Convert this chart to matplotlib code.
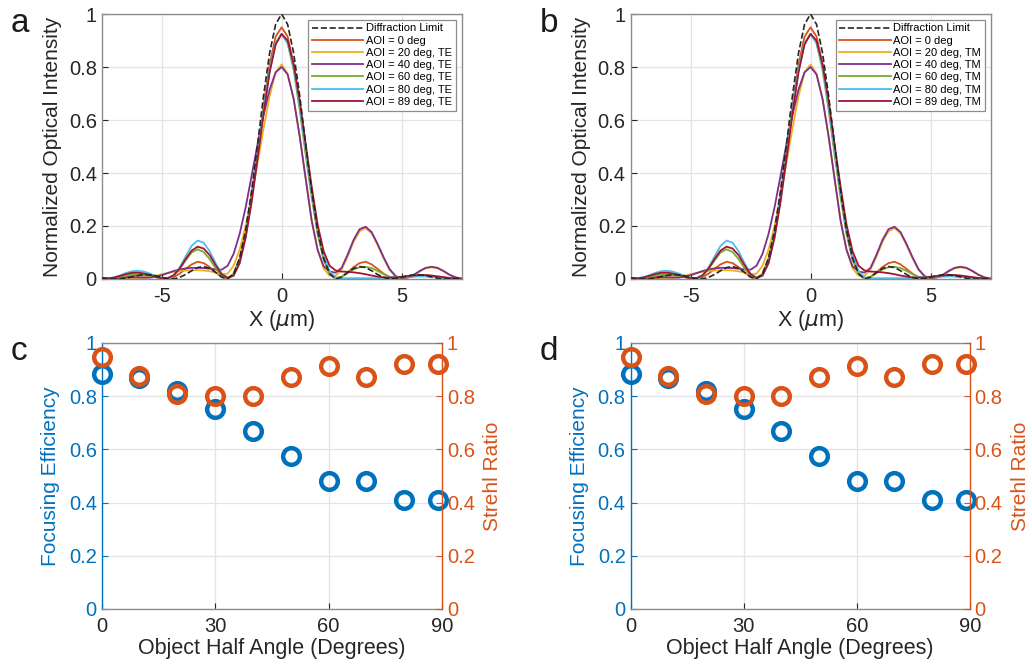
import numpy as np
import matplotlib
matplotlib.use("Agg")
import matplotlib.pyplot as plt

plt.rcParams['font.family'] = ['Liberation Sans', 'DejaVu Sans']
plt.rcParams['mathtext.fontset'] = 'dejavusans'
plt.rcParams['axes.unicode_minus'] = False

# ---- line profiles, sampled every 0.25 um from -7.5 to 7.5 ----
x_um = np.arange(-7.5, 7.51, 0.25)

diff_limit = [0.005, 0.002, 0.000, 0.000, 0.003, 0.008, 0.013, 0.016, 0.016, 0.012,
              0.006, 0.001, 0.000, 0.006, 0.017, 0.031, 0.043, 0.047, 0.040, 0.025,
              0.007, 0.000, 0.020, 0.079, 0.184, 0.333, 0.510, 0.694, 0.853, 0.961,
              1.000,
              0.961, 0.853, 0.694, 0.510, 0.333, 0.184, 0.079, 0.020, 0.000, 0.007,
              0.025, 0.040, 0.047, 0.043, 0.031, 0.017, 0.006, 0.000, 0.001, 0.006,
              0.012, 0.016, 0.016, 0.013, 0.008, 0.003, 0.000, 0.000, 0.002, 0.005]

aoi_0 = [0.001, 0.001, 0.002, 0.004, 0.007, 0.011, 0.013, 0.013, 0.011, 0.007,
         0.003, 0.002, 0.007, 0.020, 0.038, 0.055, 0.065, 0.060, 0.045, 0.025,
         0.008, 0.002, 0.020, 0.075, 0.175, 0.320, 0.485, 0.655, 0.810, 0.915,
         0.950,
         0.915, 0.810, 0.655, 0.485, 0.320, 0.175, 0.075, 0.020, 0.002, 0.008,
         0.025, 0.045, 0.060, 0.065, 0.055, 0.038, 0.020, 0.007, 0.002, 0.003,
         0.007, 0.011, 0.013, 0.013, 0.011, 0.007, 0.004, 0.002, 0.001, 0.001]

aoi_20 = [0.000, 0.000, 0.001, 0.002, 0.003, 0.004, 0.004, 0.005, 0.008, 0.012,
          0.018, 0.023, 0.027, 0.030, 0.032, 0.033, 0.033, 0.032, 0.029, 0.024,
          0.018, 0.020, 0.050, 0.110, 0.200, 0.310, 0.440, 0.570, 0.690, 0.780,
          0.810,
          0.775, 0.680, 0.540, 0.380, 0.225, 0.110, 0.040, 0.012, 0.012, 0.035,
          0.085, 0.140, 0.180, 0.192, 0.172, 0.128, 0.078, 0.034, 0.010, 0.003,
          0.005, 0.014, 0.028, 0.040, 0.044, 0.040, 0.029, 0.015, 0.006, 0.001]

aoi_40 = [0.000, 0.001, 0.002, 0.004, 0.005, 0.006, 0.006, 0.005, 0.005, 0.008,
          0.014, 0.022, 0.030, 0.036, 0.040, 0.042, 0.042, 0.041, 0.039, 0.036,
          0.035, 0.050, 0.095, 0.170, 0.270, 0.390, 0.510, 0.620, 0.715, 0.780,
          0.800,
          0.772, 0.680, 0.540, 0.380, 0.220, 0.110, 0.048, 0.028, 0.024, 0.042,
          0.092, 0.148, 0.188, 0.197, 0.177, 0.132, 0.082, 0.037, 0.011, 0.003,
          0.005, 0.015, 0.030, 0.042, 0.046, 0.042, 0.030, 0.016, 0.006, 0.001]

aoi_60 = [0.000, 0.001, 0.004, 0.008, 0.013, 0.017, 0.018, 0.016, 0.012, 0.007,
          0.002, 0.002, 0.012, 0.037, 0.070, 0.100, 0.112, 0.102, 0.075, 0.040,
          0.012, 0.003, 0.020, 0.075, 0.170, 0.310, 0.470, 0.640, 0.790, 0.890,
          0.925,
          0.890, 0.790, 0.640, 0.470, 0.310, 0.170, 0.075, 0.020, 0.003, 0.008,
          0.022, 0.036, 0.044, 0.046, 0.041, 0.030, 0.018, 0.008, 0.004, 0.005,
          0.007, 0.009, 0.010, 0.010, 0.009, 0.007, 0.005, 0.003, 0.002, 0.001]

aoi_80 = [0.000, 0.002, 0.006, 0.013, 0.022, 0.029, 0.031, 0.028, 0.021, 0.012,
          0.004, 0.002, 0.013, 0.043, 0.085, 0.125, 0.145, 0.137, 0.105, 0.060,
          0.020, 0.005, 0.012, 0.060, 0.160, 0.300, 0.470, 0.640, 0.790, 0.890,
          0.925,
          0.890, 0.800, 0.660, 0.490, 0.330, 0.190, 0.090, 0.030, 0.006, 0.002,
          0.003, 0.003, 0.003, 0.003, 0.003, 0.003, 0.004, 0.005, 0.007, 0.009,
          0.010, 0.011, 0.011, 0.010, 0.008, 0.006, 0.004, 0.002, 0.001, 0.000]

aoi_89 = [0.000, 0.002, 0.005, 0.011, 0.018, 0.023, 0.024, 0.021, 0.015, 0.008,
          0.003, 0.003, 0.014, 0.040, 0.075, 0.107, 0.122, 0.115, 0.090, 0.052,
          0.018, 0.004, 0.013, 0.060, 0.155, 0.290, 0.455, 0.625, 0.780, 0.885,
          0.925,
          0.900, 0.810, 0.675, 0.510, 0.350, 0.205, 0.105, 0.050, 0.032, 0.028,
          0.027, 0.025, 0.022, 0.018, 0.013, 0.009, 0.006, 0.005, 0.006, 0.008,
          0.011, 0.013, 0.015, 0.015, 0.013, 0.010, 0.007, 0.004, 0.002, 0.001]

aoi_labels = ["AOI = 0 deg", "AOI = 20 deg", "AOI = 40 deg",
              "AOI = 60 deg", "AOI = 80 deg", "AOI = 89 deg"]
aoi_colors = ["#D95319", "#EDB120", "#7E2F8E", "#77AC30", "#4DBEEE", "#A2142F"]

# ---- focusing efficiency / strehl ratio vs object half angle ----
half_angle = [0, 10, 20, 30, 40, 50, 60, 70, 80, 89]
focus_eff = [0.883, 0.870, 0.820, 0.752, 0.668, 0.574, 0.480, 0.480, 0.410, 0.410]
strehl = [0.947, 0.877, 0.810, 0.802, 0.802, 0.871, 0.915, 0.871, 0.922, 0.921]

BLUE = "#0072BD"
ORANGE = "#D95319"
SPINE = "#8c8c8c"
GRID = "#e4e4e4"
TXT = "#262626"

fig = plt.figure(figsize=(10.32, 6.69), dpi=100)


def style_axes(ax):
    ax.tick_params(direction='in', length=4, labelsize=14.5, colors=TXT)
    ax.tick_params(axis='x', pad=6)
    for s in ax.spines.values():
        s.set_color(SPINE)
        s.set_linewidth(1.0)
    ax.grid(True, color=GRID, linewidth=0.9)
    ax.set_axisbelow(True)


def profile_panel(rect, pol, letter):
    ax = fig.add_axes(rect)
    curves = [aoi_0, aoi_20, aoi_40, aoi_60, aoi_80, aoi_89]
    handles = []
    h, = ax.plot(x_um, diff_limit, '--', color=TXT, lw=1.2, zorder=5,
                 label="Diffraction Limit")
    handles.append(h)
    for i, (yy, c) in enumerate(zip(curves, aoi_colors)):
        lab = aoi_labels[i] if i == 0 else aoi_labels[i] + ", " + pol
        h, = ax.plot(x_um, yy, color=c, lw=1.3, label=lab)
        handles.append(h)
    ax.set_xlim(-7.5, 7.5)
    ax.set_ylim(0, 1)
    ax.set_xticks([-5, 0, 5])
    ax.set_yticks([0, 0.2, 0.4, 0.6, 0.8, 1])
    ax.set_yticklabels(["0", "0.2", "0.4", "0.6", "0.8", "1"])
    style_axes(ax)
    ax.set_xlabel(r"X ($\mu$m)", fontsize=15.5, color=TXT, labelpad=1)
    ax.set_ylabel("Normalized Optical Intensity", fontsize=15, color=TXT, labelpad=5)
    leg = ax.legend(handles=handles, loc='upper right', fontsize=8, handlelength=4.6,
                    handletextpad=0.25, labelspacing=0.2, borderpad=0.35,
                    borderaxespad=0.5, fancybox=False, framealpha=1)
    leg.get_frame().set_edgecolor(SPINE)
    leg.get_frame().set_linewidth(0.9)
    fig.text(rect[0] - 0.088, 0.965, letter, fontsize=24, color='#1a1a1a', va='center')
    return ax


def metric_panel(rect, letter):
    ax = fig.add_axes(rect)
    ax.plot(half_angle, focus_eff, 'o', mfc='none', mec=BLUE, mew=3.2, ms=12,
            clip_on=False, zorder=3)
    ax.set_xlim(0, 90)
    ax.set_ylim(0, 1)
    ax.set_xticks([0, 30, 60, 90])
    ax.set_yticks([0, 0.2, 0.4, 0.6, 0.8, 1])
    ax.set_yticklabels(["0", "0.2", "0.4", "0.6", "0.8", "1"])
    style_axes(ax)
    ax.tick_params(axis='y', colors=BLUE)
    ax.spines['left'].set_color(BLUE)
    ax.set_ylabel("Focusing Efficiency", fontsize=15, color=BLUE, labelpad=6)
    ax.set_xlabel("Object Half Angle (Degrees)", fontsize=15.5, color=TXT, labelpad=1)

    ax2 = ax.twinx()
    ax2.plot(half_angle, strehl, 'o', mfc='none', mec=ORANGE, mew=3.2, ms=12,
             clip_on=False)
    ax2.set_ylim(0, 1)
    ax2.set_yticks([0, 0.2, 0.4, 0.6, 0.8, 1])
    ax2.set_yticklabels(["0", "0.2", "0.4", "0.6", "0.8", "1"])
    ax2.tick_params(axis='y', direction='in', length=4, colors=ORANGE, labelsize=14.5)
    for s in ax2.spines.values():
        s.set_visible(False)
    ax2.spines['right'].set_visible(True)
    ax2.spines['right'].set_color(ORANGE)
    ax2.set_ylabel("Strehl Ratio", fontsize=15, color=ORANGE, labelpad=6)
    fig.text(rect[0] - 0.088, 0.475, letter, fontsize=24, color='#1a1a1a', va='center')
    return ax


profile_panel([0.0985, 0.583, 0.3488, 0.396], "TE", "a")
profile_panel([0.611, 0.583, 0.3488, 0.396], "TM", "b")
metric_panel([0.0985, 0.0897, 0.3298, 0.3976], "c")
metric_panel([0.611, 0.0897, 0.3288, 0.3976], "d")

fig.savefig("out.png", dpi=100)
